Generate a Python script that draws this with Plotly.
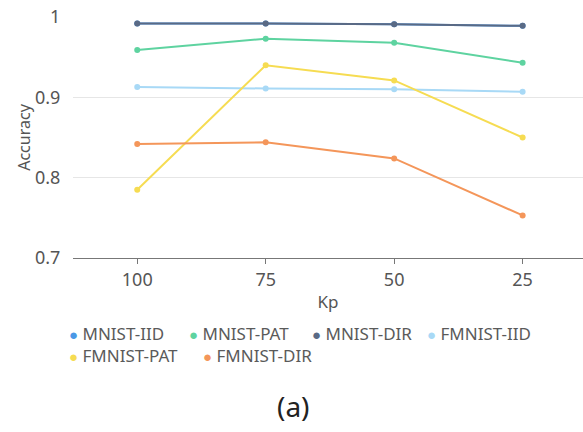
import plotly.graph_objects as go

# Kp values on the category axis
kp_labels = ["100", "75", "50", "25"]

# Accuracy per setting
mnist_iid = [0.992, 0.992, 0.991, 0.989]
mnist_pat = [0.959, 0.973, 0.968, 0.943]
mnist_dir = [0.992, 0.992, 0.991, 0.989]
fmnist_iid = [0.913, 0.911, 0.910, 0.907]
fmnist_pat = [0.785, 0.940, 0.921, 0.850]
fmnist_dir = [0.842, 0.844, 0.824, 0.753]

series_names = ["MNIST-IID", "MNIST-PAT", "MNIST-DIR", "FMNIST-IID", "FMNIST-PAT", "FMNIST-DIR"]
series_values = [mnist_iid, mnist_pat, mnist_dir, fmnist_iid, fmnist_pat, fmnist_dir]
series_colors = ["#4a98e6", "#5ed3a0", "#5a6a85", "#a8d9f6", "#f6dc52", "#f4965a"]

FONT = "Noto Sans"
W, H = 583, 432
L, R, T, B = 73, 0, 17, 174
PW, PH = W - L - R, H - T - B

fig = go.Figure()
for name, vals, col in zip(series_names, series_values, series_colors):
    fig.add_trace(go.Scatter(
        x=kp_labels, y=vals, name=name, mode="lines+markers",
        line=dict(color=col, width=2),
        marker=dict(color=col, size=6),
        showlegend=False,
    ))

def px_x(px):
    return (px - L) / PW

def px_y(py):
    return (H - B - py) / PH

# Custom legend: small dot followed by the series name
legend_pos = [(67, 333), (187, 333), (310, 333), (425, 333), (67, 355), (201, 355)]
annotations = []
for name, col, (lx, ly) in zip(series_names, series_colors, legend_pos):
    annotations.append(dict(
        xref="paper", yref="paper", x=px_x(lx), y=px_y(ly),
        xanchor="left", yanchor="middle", showarrow=False,
        text=f"<span style='color:{col};font-size:15px'>●</span> {name}",
        font=dict(family=FONT, size=17, color="#5a5a5a"),
    ))

annotations.append(dict(
    xref="paper", yref="paper", x=px_x(293), y=px_y(406),
    xanchor="center", yanchor="middle", showarrow=False,
    text="(a)", font=dict(family=FONT, size=28, color="#222222"),
))

fig.update_layout(
    width=W, height=H,
    margin=dict(l=L, r=R, t=T, b=B),
    paper_bgcolor="white", plot_bgcolor="white",
    font=dict(family=FONT, color="#555555"),
    annotations=annotations,
    xaxis=dict(
        type="category", range=[-0.5, 3.47],
        showgrid=False, showline=True, linecolor="#777777", linewidth=1,
        ticks="outside", ticklen=5, tickcolor="#777777",
        tickfont=dict(family=FONT, size=18, color="#555555"),
        title=dict(text="Kp", font=dict(family=FONT, size=17, color="#555555"), standoff=6),
        zeroline=False,
    ),
    yaxis=dict(
        range=[0.7, 1.0], tickvals=[0.7, 0.8, 0.9, 1.0], ticktext=["0.7", "0.8", "0.9", "1"],
        showgrid=True, gridcolor="#e6e6e6", gridwidth=1,
        showline=False, zeroline=False,
        ticks="outside", ticklen=8, tickcolor="rgba(0,0,0,0)",
        tickfont=dict(family=FONT, size=18, color="#555555"),
        title=dict(text="Accuracy", font=dict(family=FONT, size=16, color="#555555"), standoff=0),
    ),
)

fig.write_html("out.html")
